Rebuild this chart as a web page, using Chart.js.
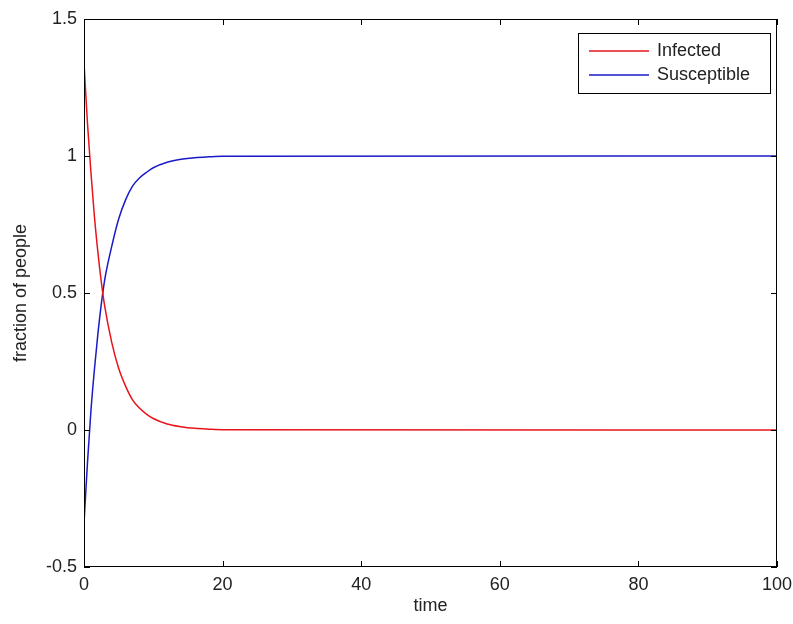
<!DOCTYPE html>
<html lang="en">
<head>
    <meta charset="UTF-8">
    <title>Infected vs Susceptible</title>
    <script src="https://cdn.jsdelivr.net/npm/chart.js"></script>
    <style>
        html, body { margin: 0; padding: 0; background: #fff; }
        canvas { display: block; }
    </style>
</head>
<body>
    <canvas id="sisChart" width="793" height="624"></canvas>

    <script>
        // values
        const time        = [0, 0.5, 1, 1.5, 2, 2.5, 3, 4, 5, 6, 7, 8, 9, 10, 12, 14, 16, 18, 20, 100];
        const infected    = [1.34, 1.12, 0.94, 0.78, 0.65, 0.54, 0.45, 0.32, 0.225, 0.16, 0.11, 0.08, 0.058, 0.042, 0.022, 0.012, 0.006, 0.003, 0.001, 0];
        const susceptible = [-0.34, -0.12, 0.07, 0.22, 0.35, 0.46, 0.55, 0.67, 0.77, 0.84, 0.89, 0.92, 0.94, 0.957, 0.977, 0.988, 0.994, 0.997, 0.999, 1];

        const xTicks = [0, 20, 40, 60, 80, 100];
        const yTicks = [-0.5, 0, 0.5, 1, 1.5];

        const fontFamily = "'Liberation Sans', Arial, sans-serif";
        const textColor = '#222';

        // box, inward ticks (matlab style) and legend
        const matlabFrame = {
            id: 'matlabFrame',
            afterDatasetsDraw(chart) {
                const { ctx, chartArea: a, scales } = chart;
                const tick = 6;
                ctx.save();
                ctx.strokeStyle = '#000';
                ctx.lineWidth = 1;
                ctx.strokeRect(a.left + 0.5, a.top + 0.5, a.right - a.left - 1, a.bottom - a.top - 1);
                ctx.beginPath();
                xTicks.forEach(v => {
                    const px = Math.round(scales.x.getPixelForValue(v)) + 0.5;
                    ctx.moveTo(px, a.bottom); ctx.lineTo(px, a.bottom - tick);
                    ctx.moveTo(px, a.top); ctx.lineTo(px, a.top + tick);
                });
                yTicks.forEach(v => {
                    const py = Math.round(scales.y.getPixelForValue(v)) + 0.5;
                    ctx.moveTo(a.left, py); ctx.lineTo(a.left + tick, py);
                    ctx.moveTo(a.right, py); ctx.lineTo(a.right - tick, py);
                });
                ctx.stroke();

                // legend
                const bx = 578, by = 33, bw = 192, bh = 60;
                ctx.fillStyle = '#fff';
                ctx.fillRect(bx, by, bw, bh);
                ctx.strokeRect(bx + 0.5, by + 0.5, bw, bh);
                ctx.font = '18px ' + fontFamily;
                ctx.textBaseline = 'middle';
                chart.data.datasets.forEach((ds, i) => {
                    const y = by + 18 + i * 24;
                    ctx.strokeStyle = ds.borderColor;
                    ctx.lineWidth = 1.5;
                    ctx.beginPath();
                    ctx.moveTo(bx + 11, y); ctx.lineTo(bx + 71, y);
                    ctx.stroke();
                    ctx.fillStyle = textColor;
                    ctx.fillText(ds.label, bx + 79, y);
                });
                ctx.restore();
            }
        };

        const ctx = document.getElementById('sisChart').getContext('2d');
        new Chart(ctx, {
            type: 'line',
            data: {
                datasets: [
                    {
                        label: 'Infected',
                        data: time.map((t, i) => ({ x: t, y: infected[i] })),
                        borderColor: '#e8141c',
                        borderWidth: 1.5,
                        pointRadius: 0,
                        cubicInterpolationMode: 'monotone',
                        fill: false
                    },
                    {
                        label: 'Susceptible',
                        data: time.map((t, i) => ({ x: t, y: susceptible[i] })),
                        borderColor: '#1a1ac8',
                        borderWidth: 1.5,
                        pointRadius: 0,
                        cubicInterpolationMode: 'monotone',
                        fill: false
                    }
                ]
            },
            options: {
                responsive: false,
                animation: false,
                layout: { padding: { top: 19, right: 16, left: 0, bottom: 0 } },
                plugins: {
                    legend: { display: false },
                    tooltip: { enabled: false }
                },
                scales: {
                    x: {
                        type: 'linear',
                        min: 0,
                        max: 100,
                        afterBuildTicks: s => { s.ticks = xTicks.map(v => ({ value: v })); },
                        afterFit: s => { s.height = 57; s.paddingLeft = 0; s.paddingRight = 0; },
                        grid: { display: false, drawTicks: false },
                        border: { display: false },
                        ticks: { padding: 7, color: textColor, font: { family: fontFamily, size: 18 }, maxRotation: 0 },
                        title: {
                            display: true,
                            text: 'time',
                            color: textColor,
                            font: { family: fontFamily, size: 18 },
                            padding: { top: 0, bottom: 7 }
                        }
                    },
                    y: {
                        type: 'linear',
                        min: -0.5,
                        max: 1.5,
                        afterBuildTicks: s => { s.ticks = yTicks.map(v => ({ value: v })); },
                        afterFit: s => { s.width = 84; s.paddingTop = 0; s.paddingBottom = 0; },
                        grid: { display: false, drawTicks: false },
                        border: { display: false },
                        ticks: {
                            padding: 7,
                            color: textColor,
                            font: { family: fontFamily, size: 18 },
                            callback: v => String(v)
                        },
                        title: {
                            display: true,
                            text: 'fraction of people',
                            color: textColor,
                            font: { family: fontFamily, size: 18 },
                            padding: { top: 10, bottom: 0 }
                        }
                    }
                }
            },
            plugins: [matlabFrame]
        });
    </script>
</body>
</html>
